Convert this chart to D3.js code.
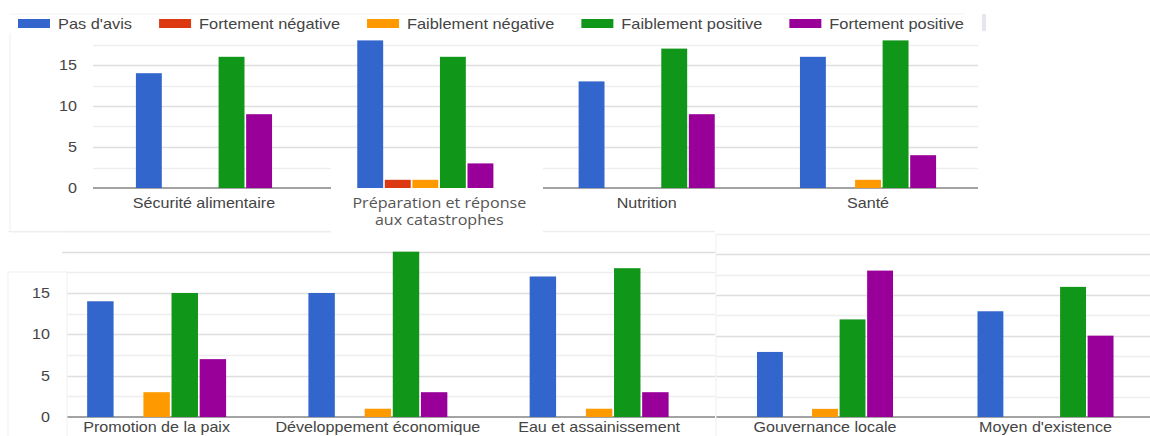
<!DOCTYPE html>
<html>
<head>
<meta charset="utf-8">
<script src="https://cdn.jsdelivr.net/npm/d3@7"></script>
<style>
  html, body { margin: 0; padding: 0; background: #fff; overflow: hidden; }
  svg { display: block; }
  text { font-family: "Liberation Sans", Arial, sans-serif; font-size: 14px; fill: #444; }
</style>
</head>
<body>
<svg id="chart" width="1150" height="436"></svg>
<script>
// ---- Data ---------------------------------------------------------------
const series = ["Pas d'avis", "Fortement négative", "Faiblement négative", "Faiblement positive", "Fortement positive"];
const seriesColors = ["#3366cc", "#dc3912", "#ff9900", "#109618", "#990099"];

const categories = [
  "Sécurité alimentaire",
  "Préparation et réponse\naux catastrophes",
  "Nutrition",
  "Santé",
  "Promotion de la paix",
  "Développement économique",
  "Eau et assainissement",
  "Gouvernance locale",
  "Moyen d'existence"
];

const pasDAvis           = [14, 18, 13, 16, 14, 15, 17,  8, 13];
const fortementNegative  = [ 0,  1,  0,  0,  0,  0,  0,  0,  0];
const faiblementNegative = [ 0,  1,  0,  1,  3,  1,  1,  1,  0];
const faiblementPositive = [16, 16, 17, 18, 15, 20, 18, 12, 16];
const fortementPositive  = [ 9,  3,  9,  4,  7,  3,  3, 18, 10];

const seriesValues = [pasDAvis, fortementNegative, faiblementNegative, faiblementPositive, fortementPositive];

const topTicks = [0, 5, 10, 15];
const bottomTicks = [0, 5, 10, 15];

// ---- Layout of the three chart blocks ------------------------------------
const panels = [
  { from: 0, to: 4, xRange: [93.3, 978.7], yMax: 17.5, yRange: [188, 44.5], grid: [93, 978],
    pad: 0.385, ticks: topTicks, tickX: 77, labelY: 208, labelDx: [0, 14, 0, 0], wrapFont: "'Open Sans', sans-serif" },
  { from: 4, to: 7, xRange: [46, 709.75], yMax: 22.5, yRange: [417, 231], grid: [62, 715],
    pad: 0.372, ticks: bottomTicks, tickX: 50, labelY: 432, labelDx: [0, 0, 0] },
  { from: 7, to: 9, xRange: [714.75, 1155.75], yMax: 22.5, yRange: [417, 234], grid: [716, 1150],
    pad: 0.383, ticks: [], tickX: 0, labelY: 432, labelDx: [0, 0] }
];

const STRETCH = 1.15;
const LEGEND_STRETCH = 1.17;
const svg = d3.select("#chart");

function stretchedText(g, x, y, txt, anchor, k = STRETCH) {
  return g.append("text")
    .attr("transform", `translate(${x},${y}) scale(${k},1)`)
    .attr("text-anchor", anchor)
    .text(txt);
}

const gridLayer = svg.append("g");
const frameLayer = svg.append("g");
const barLayer = svg.append("g");
const textLayer = svg.append("g");

// Faint frames of the stacked chart blocks
const frameColor = "#efeff2";
frameLayer.append("line").attr("x1", 10).attr("x2", 965).attr("y1", 14).attr("y2", 14).attr("stroke", "#f3f3f3");
frameLayer.append("rect").attr("x", 982).attr("y", 14).attr("width", 4).attr("height", 17).attr("fill", "#e6e6ef");
frameLayer.append("line").attr("x1", 10).attr("x2", 10).attr("y1", 33).attr("y2", 232).attr("stroke", frameColor);

panels.forEach((p, pi) => {
  const cats = categories.slice(p.from, p.to);
  const x0 = d3.scaleBand().domain(cats).range(p.xRange).paddingInner(p.pad).paddingOuter(p.pad / 2);
  const x1 = d3.scaleBand().domain(series).range([0, x0.bandwidth()]).paddingInner(0.06);
  const y = d3.scaleLinear().domain([0, p.yMax]).range(p.yRange);

  // gridlines every 2.5
  const gridVals = d3.range(0, p.yMax + 0.001, 2.5);
  gridLayer.selectAll(null).data(gridVals.filter(v => v > 0)).join("line")
    .attr("x1", p.grid[0]).attr("x2", p.grid[1])
    .attr("y1", d => Math.round(y(d)) + 0.5).attr("y2", d => Math.round(y(d)) + 0.5)
    .attr("stroke", d => d % 5 === 0 ? "#dedede" : "#eeeeee")
    .attr("stroke-width", 1.3);
  gridLayer.append("line")
    .attr("x1", p.grid[0]).attr("x2", p.grid[1])
    .attr("y1", y(0)).attr("y2", y(0))
    .attr("stroke", "#a3a3a3").attr("stroke-width", 2);

  // bars
  const rows = cats.map((c, i) => ({
    cat: c,
    values: series.map((s, k) => ({ s, k, v: seriesValues[k][p.from + i] }))
  }));
  const groups = barLayer.selectAll(null).data(rows).join("g")
    .attr("transform", d => `translate(${x0(d.cat)},0)`);
  groups.selectAll("rect").data(d => d.values.filter(e => e.v > 0)).join("rect")
    .attr("x", d => x1(d.s))
    .attr("width", x1.bandwidth())
    .attr("y", d => y(d.v))
    .attr("height", d => y(0) - y(d.v))
    .attr("fill", d => seriesColors[d.k]);

  // y tick labels
  p.ticks.forEach(t => {
    stretchedText(textLayer, p.tickX, y(t) + 5, String(t), "end");
  });

  // category labels
  cats.forEach((c, i) => {
    const cx = x0(c) + x0.bandwidth() / 2 + p.labelDx[i];
    const lines = c.split("\n");
    lines.forEach((ln, li) => {
      const t = stretchedText(textLayer, cx, p.labelY + li * 16.5, ln, "middle");
      if (lines.length > 1 && p.wrapFont) t.style("font-family", p.wrapFont).style("fill", "#555");
    });
  });

  // extra frame for the lower-left block
  if (pi === 1) {
    frameLayer.append("line").attr("x1", 8).attr("x2", 62).attr("y1", 231.5).attr("y2", 231.5).attr("stroke", "#eeeeee");
  }
});

// patch under the two-line label (no baseline or lower gridlines there)
frameLayer.append("rect").attr("x", 331).attr("y", 156).attr("width", 212).attr("height", 77).attr("fill", "#fff");
// y-label box of the lower-left block
frameLayer.append("rect").attr("x", 8).attr("y", 272).attr("width", 59).attr("height", 170)
  .attr("fill", "#fff").attr("stroke", "#f0f0f0");
// left edge of the lower-right block
frameLayer.append("line").attr("x1", 716).attr("x2", 716).attr("y1", 234).attr("y2", 436).attr("stroke", frameColor);
// bottom of the upper-left block
frameLayer.append("line").attr("x1", 10).attr("x2", 331).attr("y1", 232).attr("y2", 232).attr("stroke", frameColor);

// ---- Legend ----------------------------------------------------------------
const legend = textLayer.append("g");
let lx = 18;
series.forEach((s, k) => {
  legend.append("rect").attr("x", lx).attr("y", 19).attr("width", 32).attr("height", 9).attr("fill", seriesColors[k]);
  const t = stretchedText(legend, lx + 40, 29, s, "start", LEGEND_STRETCH);
  const w = t.node().getComputedTextLength() * LEGEND_STRETCH;
  lx += 40 + w + 27;
});
</script>
</body>
</html>
